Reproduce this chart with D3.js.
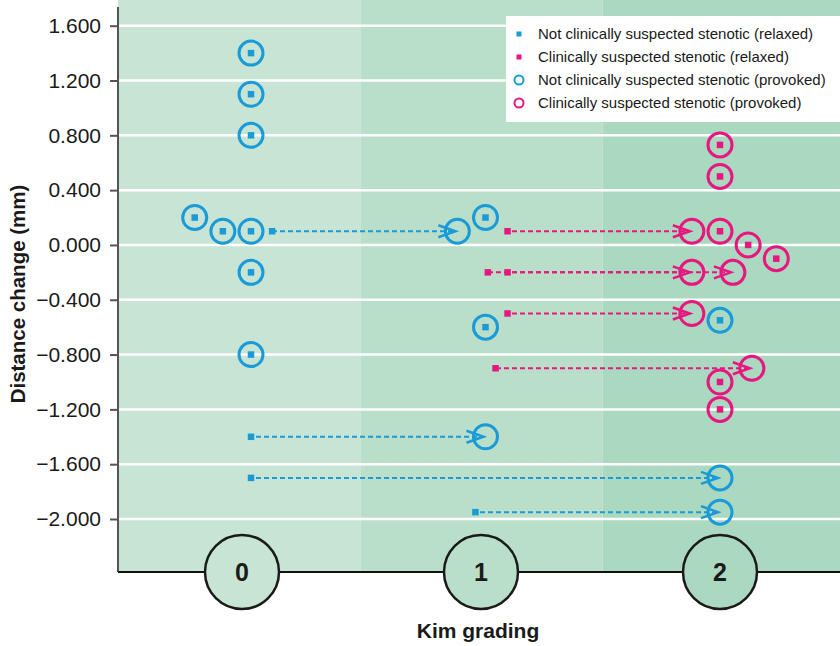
<!DOCTYPE html>
<html>
<head>
<meta charset="utf-8">
<script src="https://cdn.jsdelivr.net/npm/d3@7"></script>
<style>
  html, body { margin: 0; padding: 0; background: #fff; }
  svg { display: block; font-family: "Liberation Sans", Arial, sans-serif; }
</style>
</head>
<body>
<svg id="chart" width="840" height="646"></svg>
<script>
// Kim grading categories and their tick labels
const grades = [0, 1, 2];
const gradeLabels = ["0", "1", "2"];
const bandColors = ["#c7e4d5", "#b9dfca", "#aad8c1"];

// Distance-change axis ticks (mm)
const yTicks = [1.6, 1.2, 0.8, 0.4, 0.0, -0.4, -0.8, -1.2, -1.6, -2.0];

// Each subject: [distance change, relaxed grade, provoked grade, relaxed jitter, provoked jitter]
// jitter is a small horizontal dodge in grade units so overlapping markers stay visible
const notStenotic = [
  [1.4, 0, 0, 0, 0],
  [1.1, 0, 0, 0, 0],
  [0.8, 0, 0, 0, 0],
  [0.2, 0, 0, -0.24, -0.24],
  [0.1, 0, 0, -0.12, -0.12],
  [0.1, 0, 0, 0, 0],
  [-0.2, 0, 0, 0, 0],
  [-0.8, 0, 0, 0, 0],
  [0.1, 0, 1, 0.09, -0.12],
  [-1.4, 0, 1, 0, 0],
  [-1.7, 0, 2, 0, 0],
  [0.2, 1, 1, 0, 0],
  [-0.6, 1, 1, 0, 0],
  [-1.95, 1, 2, -0.043, 0],
  [-0.55, 2, 2, 0, 0]
];

const stenotic = [
  [0.1, 1, 2, 0.094, -0.12],
  [-0.2, 1, 2, 0.01, 0.055],
  [-0.2, 1, 2, 0.094, -0.12],
  [-0.5, 1, 2, 0.094, -0.12],
  [-0.9, 1, 2, 0.043, 0.136],
  [0.73, 2, 2, 0, 0],
  [0.5, 2, 2, 0, 0],
  [0.1, 2, 2, 0, 0],
  [0.0, 2, 2, 0.12, 0.12],
  [-0.1, 2, 2, 0.24, 0.24],
  [-1.0, 2, 2, 0, 0],
  [-1.2, 2, 2, 0, 0]
];

const legendLabels = [
  "Not clinically suspected stenotic (relaxed)",
  "Clinically suspected stenotic (relaxed)",
  "Not clinically suspected stenotic (provoked)",
  "Clinically suspected stenotic (provoked)"
];

const BLUE = "#1a9bd7";
const PINK = "#e8177f";

const svg = d3.select("#chart");
const W = 840, H = 646;
const plot = { left: 118, right: 845, top: 0, bottom: 572 };

// Scales
const band = d3.scaleBand().domain(grades).range([plot.left, plot.right]).padding(0);
const x = d3.scaleLinear().domain([0, 2]).range([251, 720]);
const xLabel = d3.scaleLinear().domain([0, 2]).range([242, 720]);
const y = d3.scaleLinear().domain([-2.0, 1.6]).range([519, 25.7]);

// Background bands per grade
svg.append("g").selectAll("rect").data(grades).join("rect")
  .attr("x", d => band(d))
  .attr("y", plot.top)
  .attr("width", band.bandwidth())
  .attr("height", plot.bottom - plot.top)
  .attr("fill", (d, i) => bandColors[i]);

// White horizontal grid lines
svg.append("g").selectAll("line").data(yTicks).join("line")
  .attr("x1", plot.left).attr("x2", W)
  .attr("y1", d => y(d)).attr("y2", d => y(d))
  .attr("stroke", "#fff").attr("stroke-width", 2.5);

// Y axis
const yAxis = svg.append("g")
  .attr("transform", `translate(${plot.left},0)`)
  .call(d3.axisLeft(y).tickValues(yTicks).tickFormat(d3.format(".3f")).tickSize(8).tickPadding(9));
yAxis.select(".domain").attr("d", `M0,7V${plot.bottom}`).attr("stroke", "#555").attr("stroke-width", 2);
yAxis.selectAll(".tick line").attr("stroke", "#555").attr("stroke-width", 2);
yAxis.selectAll(".tick text").attr("font-size", 21).attr("fill", "#1a1a1a")
  .attr("font-family", "Liberation Sans, Arial, sans-serif");

svg.append("text")
  .attr("transform", `translate(25,${(plot.top + plot.bottom) / 2 + 8}) rotate(-90)`)
  .attr("text-anchor", "middle")
  .attr("font-size", 20.5).attr("font-weight", "bold").attr("fill", "#1a1a1a")
  .text("Distance change (mm)");

// Transitions from relaxed to provoked grade (dashed arrows)
function arrowPaths(data, color) {
  const moved = data.filter(d => d[1] !== d[2] || d[3] !== d[4]);
  const g = svg.append("g");
  g.selectAll("line.link").data(moved).join("line")
    .attr("class", "link")
    .attr("x1", d => x(d[1] + d[3]) + 3)
    .attr("x2", d => x(d[2] + d[4]) - 3)
    .attr("y1", d => y(d[0])).attr("y2", d => y(d[0]))
    .attr("stroke", color).attr("stroke-width", 2)
    .attr("stroke-dasharray", "5,3")
    // anchor the dash pattern to absolute x so overlapping links stay in phase
    .attr("stroke-dashoffset", d => (x(d[1] + d[3]) + 3) % 8);
  g.selectAll("path.head").data(moved).join("path")
    .attr("class", "head")
    .attr("d", d => {
      const tx = x(d[2] + d[4]) - 2, ty = y(d[0]);
      return `M${tx - 17},${ty - 6}L${tx},${ty}L${tx - 17},${ty + 6}`;
    })
    .attr("fill", "none").attr("stroke", color).attr("stroke-width", 2.5);
}
arrowPaths(notStenotic, BLUE);
arrowPaths(stenotic, PINK);

// Provoked positions (open circles)
function provoked(data, color) {
  svg.append("g").selectAll("circle").data(data).join("circle")
    .attr("cx", d => x(d[2] + d[4]))
    .attr("cy", d => y(d[0]))
    .attr("r", 12)
    .attr("fill", "none").attr("stroke", color).attr("stroke-width", 3);
}
// Relaxed positions (small squares)
function relaxed(data, color) {
  const s = 6.5;
  svg.append("g").selectAll("rect").data(data).join("rect")
    .attr("x", d => x(d[1] + d[3]) - s / 2)
    .attr("y", d => y(d[0]) - s / 2)
    .attr("width", s).attr("height", s)
    .attr("fill", color);
}
provoked(notStenotic, BLUE);
provoked(stenotic, PINK);
relaxed(notStenotic, BLUE);
relaxed(stenotic, PINK);

// X axis baseline with circled grade labels
svg.append("line")
  .attr("x1", plot.left).attr("x2", W)
  .attr("y1", plot.bottom).attr("y2", plot.bottom)
  .attr("stroke", "#111").attr("stroke-width", 2);

const xg = svg.append("g").selectAll("g").data(grades).join("g")
  .attr("transform", d => `translate(${xLabel(d)},${plot.bottom})`);
xg.append("circle").attr("r", 37)
  .attr("fill", (d, i) => bandColors[i])
  .attr("stroke", "#1a1a1a").attr("stroke-width", 2.5);
xg.append("text")
  .attr("text-anchor", "middle").attr("dy", "0.36em")
  .attr("font-size", 25).attr("font-weight", "bold").attr("fill", "#1a1a1a")
  .text((d, i) => gradeLabels[i]);

svg.append("text")
  .attr("x", 478).attr("y", 638)
  .attr("text-anchor", "middle")
  .attr("font-size", 21).attr("font-weight", "bold").attr("fill", "#1a1a1a")
  .text("Kim grading");

// Legend
const lg = svg.append("g");
lg.append("rect").attr("x", 506).attr("y", 16).attr("width", 340).attr("height", 106).attr("fill", "#fff");
const items = lg.selectAll("g").data(legendLabels).join("g")
  .attr("transform", (d, i) => `translate(519,${34 + i * 23})`);
items.each(function (d, i) {
  const g = d3.select(this);
  const color = (i % 2 === 0) ? BLUE : PINK;
  if (i < 2) {
    g.append("rect").attr("x", -2.5).attr("y", -2.5).attr("width", 5).attr("height", 5).attr("fill", color);
  } else {
    g.append("circle").attr("r", 4.5).attr("fill", "none").attr("stroke", color).attr("stroke-width", 2);
  }
  g.append("text").attr("x", 19).attr("dy", "0.35em")
    .attr("font-size", 15).attr("fill", "#1a1a1a").text(d);
});
</script>
</body>
</html>
